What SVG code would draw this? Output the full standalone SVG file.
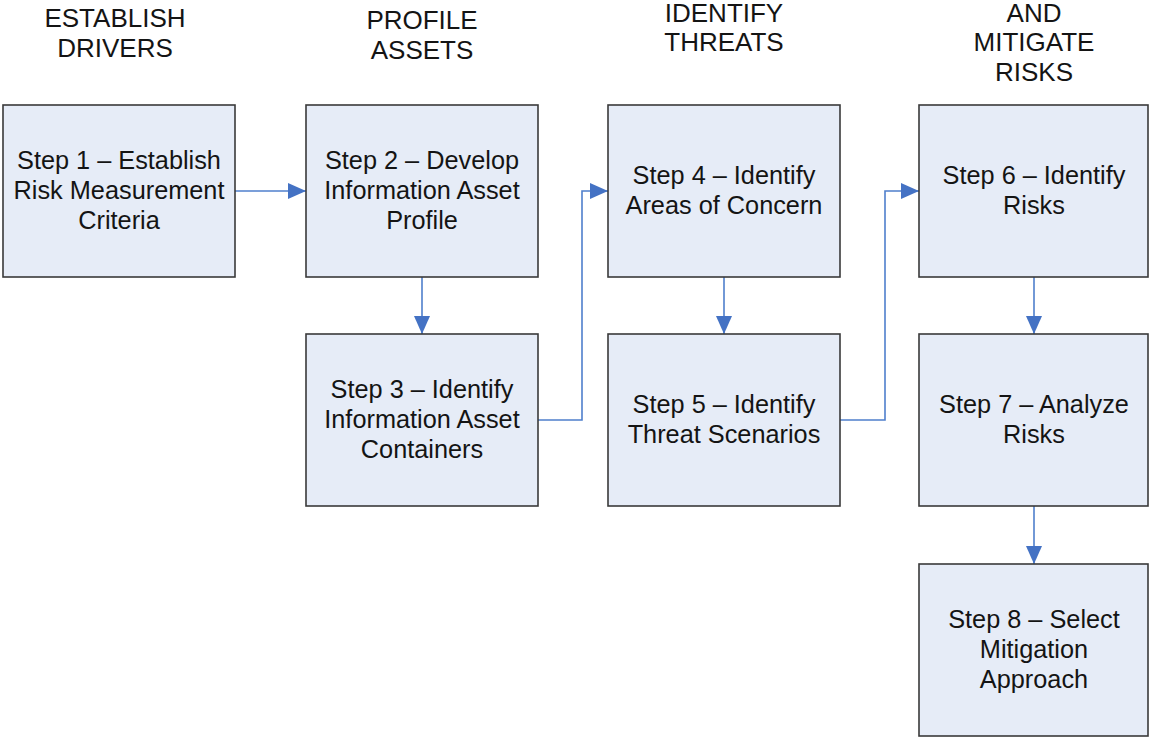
<svg xmlns="http://www.w3.org/2000/svg" width="1149" height="737" viewBox="0 0 1149 737">
  <style>
    .box { fill: #E6ECF7; stroke: #3A3A3A; stroke-width: 1.6; }
    .lbl { font-family: "Liberation Sans", Arial, sans-serif; font-size: 25.3px; fill: #141414; text-anchor: middle; }
    .hdr { font-family: "Liberation Sans", Arial, sans-serif; font-size: 26px; fill: #141414; text-anchor: middle; }
    .conn { fill: none; stroke: #4F7FCC; stroke-width: 1.6; }
  </style>
  <defs>
    <marker id="arrow" markerUnits="userSpaceOnUse" markerWidth="20" markerHeight="18" refX="18" refY="8" orient="auto">
      <path d="M0,0 L18,8 L0,16 Z" fill="#4472C4"/>
    </marker>
  </defs>
  <rect width="1149" height="737" fill="#FFFFFF"/>

  <!-- phase headings -->
  <g id="headings">
    <text class="hdr" x="115" y="27">ESTABLISH</text>
    <text class="hdr" x="115" y="57">DRIVERS</text>
    <text class="hdr" x="422" y="29">PROFILE</text>
    <text class="hdr" x="422" y="59">ASSETS</text>
    <text class="hdr" x="724" y="22">IDENTIFY</text>
    <text class="hdr" x="724" y="51">THREATS</text>
    <text class="hdr" x="1034" y="22">AND</text>
    <text class="hdr" x="1034" y="51">MITIGATE</text>
    <text class="hdr" x="1034" y="81">RISKS</text>
  </g>

  <!-- connectors -->
  <g id="connectors">
    <path class="conn" d="M235,191 L306,191" marker-end="url(#arrow)"/>
    <path class="conn" d="M422,277 L422,334" marker-end="url(#arrow)"/>
    <path class="conn" d="M538,420 L582,420 L582,191 L608,191" marker-end="url(#arrow)"/>
    <path class="conn" d="M724,277 L724,334" marker-end="url(#arrow)"/>
    <path class="conn" d="M840,420 L885,420 L885,191 L919,191" marker-end="url(#arrow)"/>
    <path class="conn" d="M1034,277 L1034,334" marker-end="url(#arrow)"/>
    <path class="conn" d="M1034,506 L1034,564" marker-end="url(#arrow)"/>
  </g>

  <!-- steps -->
  <g id="step1">
    <rect class="box" x="3" y="105" width="232" height="172"/>
    <text class="lbl" x="119" y="169">Step 1 – Establish</text>
    <text class="lbl" x="119" y="199">Risk Measurement</text>
    <text class="lbl" x="119" y="229">Criteria</text>
  </g>
  <g id="step2">
    <rect class="box" x="306" y="105" width="232" height="172"/>
    <text class="lbl" x="422" y="169">Step 2 – Develop</text>
    <text class="lbl" x="422" y="199">Information Asset</text>
    <text class="lbl" x="422" y="229">Profile</text>
  </g>
  <g id="step3">
    <rect class="box" x="306" y="334" width="232" height="172"/>
    <text class="lbl" x="422" y="398">Step 3 – Identify</text>
    <text class="lbl" x="422" y="428">Information Asset</text>
    <text class="lbl" x="422" y="458">Containers</text>
  </g>
  <g id="step4">
    <rect class="box" x="608" y="105" width="232" height="172"/>
    <text class="lbl" x="724" y="184">Step 4 – Identify</text>
    <text class="lbl" x="724" y="214">Areas of Concern</text>
  </g>
  <g id="step5">
    <rect class="box" x="608" y="334" width="232" height="172"/>
    <text class="lbl" x="724" y="413">Step 5 – Identify</text>
    <text class="lbl" x="724" y="443">Threat Scenarios</text>
  </g>
  <g id="step6">
    <rect class="box" x="919" y="105" width="229" height="172"/>
    <text class="lbl" x="1034" y="184">Step 6 – Identify</text>
    <text class="lbl" x="1034" y="214">Risks</text>
  </g>
  <g id="step7">
    <rect class="box" x="919" y="334" width="229" height="172"/>
    <text class="lbl" x="1034" y="413">Step 7 – Analyze</text>
    <text class="lbl" x="1034" y="443">Risks</text>
  </g>
  <g id="step8">
    <rect class="box" x="919" y="564" width="229" height="172"/>
    <text class="lbl" x="1034" y="628">Step 8 – Select</text>
    <text class="lbl" x="1034" y="658">Mitigation</text>
    <text class="lbl" x="1034" y="688">Approach</text>
  </g>
</svg>
